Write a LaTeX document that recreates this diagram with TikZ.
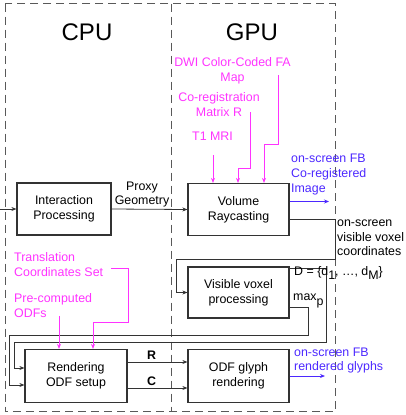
\documentclass[tikz,border=0pt]{standalone}
\usepackage{fontspec}
\setmainfont{Liberation Sans}
\usetikzlibrary{arrows.meta}

\definecolor{inpink}{RGB}{255,51,255}
\definecolor{fbblue}{RGB}{76,40,255}

\begin{document}
\begin{tikzpicture}[x=1pt,y=-1pt,
        >={Stealth[length=5pt,width=4pt]},
        every node/.style={font=\fontsize{12.4}{14.7}\selectfont,inner sep=0pt},
        box/.style={draw=black!80,line width=1.2pt,minimum width=101pt,
            minimum height=52pt,align=center},
        frame/.style={draw=black!65,line width=0.8pt,dash pattern=on 8pt off 5pt},
        conn/.style={draw=black!80,line width=0.8pt,->},
        feed/.style={draw=inpink,line width=0.8pt,->},
        fbout/.style={draw=fbblue,line width=0.8pt,->}]
    \useasboundingbox (0,0) rectangle (406,415);

    \draw[frame] (5,3.5) rectangle (335,411.5);
    \draw[frame] (171.7,3.5) -- (171.7,411.5);
    \node (cpu) at (87,32) {\fontsize{24}{28}\selectfont CPU};
    \node (gpu) at (252,32) {\fontsize{24}{28}\selectfont GPU};

    \node[box,minimum width=94pt] (inter) at (64,209) {Interaction\\Processing};
    \node[box] (volume) at (238.5,209.5) {Volume\\Raycasting};
    \node[box,minimum height=51pt] (visible) at (238.5,292.5) {Visible voxel\\processing};
    \node[box,minimum width=102pt,minimum height=53pt] (render) at (76,376) {Rendering\\ODF setup};
    \node[box,minimum height=53pt] (glyph) at (238.5,376) {ODF glyph\\rendering};

    \coordinate (user) at (0,209);
    \draw[conn] (user) -- (inter.west);
    \draw[conn] (inter.east) -- (volume.west);
    \node[align=center] (proxy) at (142,194.5) {Proxy\\Geometry};

    \node[inpink,align=center] (fa) at (232.5,71) {DWI Color-Coded FA\\Map};
    \node[inpink,align=center] (coreg) at (219,104.5) {Co-registration\\Matrix R};
    \node[inpink] (t1) at (212.5,136) {T1 MRI};
    \coordinate (faA) at (278,75);
    \coordinate (faB) at (264,144);
    \coordinate (coregA) at (250,112);
    \coordinate (coregB) at (238,168);
    \coordinate (t1A) at (213,155);
    \draw[feed] (faA) |- (faB) -- (faB |- volume.north);
    \draw[feed] (coregA) |- (coregB) -- (coregB |- volume.north);
    \draw[feed] (t1A) -- (t1A |- volume.north);

    \coordinate (fbA) at (329,201.5);
    \draw[fbout] (volume.east |- fbA) -- (fbA);
    \node[fbblue,align=left,anchor=west] (fbimg) at (291,174.5) {on-screen FB\\Co-registered\\Image};

    \coordinate (visA) at (335.5,219);
    \coordinate (visB) at (176,259);
    \draw[conn] (volume.east |- visA) -- (visA) |- (visB) |- (visible.west);
    \node[align=left,anchor=west] (coords) at (337,238) {on-screen\\visible voxel\\coordinates};

    \coordinate (dA) at (326,268.5);
    \coordinate (dB) at (14,342);
    \draw[conn] (visible.east |- dA) -- (dA) |- (dB) |- ([yshift=8pt]render.west);
    \node[anchor=west] (dset) at (294,273) {D = \{d\raisebox{-4pt}{1}, \ldots, d\raisebox{-4pt}{M}\}};
    \coordinate (mA) at (308,307);
    \coordinate (mB) at (9,335.7);
    \draw[conn] (visible.east |- mA) -- (mA) |- (mB) |- ([yshift=-9pt]render.west);
    \node[anchor=west] (maxp) at (293,301) {max\raisebox{-5pt}{p}};

    \node[inpink,align=left,anchor=west] (trans) at (14,264.5) {Translation\\Coordinates Set};
    \node[inpink,align=left,anchor=west] (odfs) at (14,305.5) {Pre-computed\\ODFs};
    \coordinate (transA) at (111,268);
    \coordinate (transB) at (93,322);
    \coordinate (odfsA) at (59,316);
    \draw[feed] (transA) -| (128,322) -- (transB) -- (transB |- render.north);
    \draw[feed] (odfsA) -- (odfsA |- render.north);

    \draw[conn] ([yshift=14pt]render.east) -- ([yshift=14pt]glyph.west)
        node[pos=0.4,above=2pt] (rot) {\textbf{R}};
    \draw[conn] ([yshift=-12pt]render.east) -- ([yshift=-12pt]glyph.west)
        node[pos=0.4,above=2pt] (col) {\textbf{C}};

    \coordinate (fbB) at (325,376);
    \draw[fbout] (glyph.east) -- (fbB);
    \node[fbblue,align=left,anchor=west] (fbglyph) at (294,360.5) {on-screen FB\\rendered glyphs};
\end{tikzpicture}
\end{document}
